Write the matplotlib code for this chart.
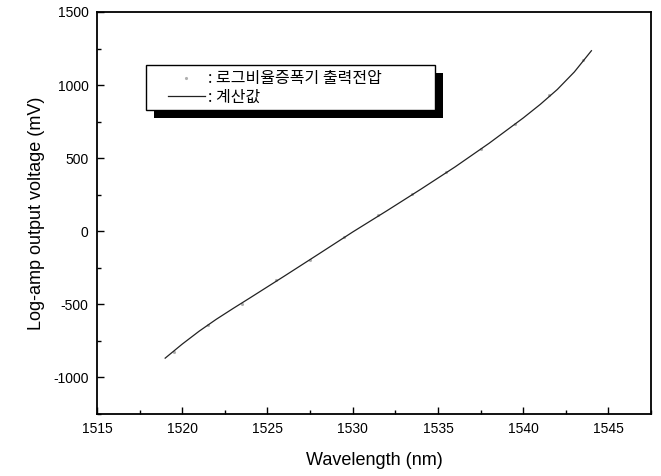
import matplotlib
matplotlib.use("Agg")
import matplotlib.pyplot as plt
from matplotlib.patches import Rectangle
from matplotlib.ticker import MultipleLocator

plt.rcParams['font.family'] = ['Liberation Sans', 'Noto Sans CJK KR', 'DejaVu Sans']
plt.rcParams['axes.unicode_minus'] = False

# calculated curve (nm, mV)
calc_wl = [1519, 1520, 1521, 1522, 1523, 1524, 1526, 1528, 1530, 1532, 1534, 1536, 1538, 1540, 1541, 1542, 1543, 1544]
calc_mv = [-868, -772, -683, -602, -527, -454, -306, -156, -5, 140, 288, 440, 602, 775, 868, 970, 1090, 1235]

# measured log-amp output (nm, mV)
meas_wl = [1519.5, 1521.5, 1523.5, 1525.5, 1527.5, 1529.5, 1531.5, 1533.5, 1535.5, 1537.5, 1539.5, 1541.5, 1543.5]
meas_mv = [-825, -640, -495, -335, -200, -40, 110, 255, 405, 565, 735, 930, 1170]

label_meas = ': 로그비율증폭기 출력전압'
label_calc = ': 계산값'

fig = plt.figure(figsize=(6.61, 4.76), dpi=100)
ax = fig.add_axes([0.1467, 0.1303, 0.8383, 0.8445])

ax.plot(meas_wl, meas_mv, linestyle='none', marker='.', markersize=2.5,
        color='#b0b0b0', label=label_meas)
ax.plot(calc_wl, calc_mv, color='#222222', linewidth=0.9, label=label_calc)

ax.set_xlim(1515, 1547.5)
ax.set_ylim(-1250, 1500)
ax.xaxis.set_major_locator(MultipleLocator(5))
ax.xaxis.set_minor_locator(MultipleLocator(2.5))
ax.yaxis.set_major_locator(MultipleLocator(500))
ax.yaxis.set_minor_locator(MultipleLocator(250))
ax.tick_params(which='major', direction='in', length=5, width=1, labelsize=10, pad=6)
ax.tick_params(which='minor', direction='in', length=3, width=1)
for s in ax.spines.values():
    s.set_linewidth(1.3)

ax.set_xlabel('Wavelength (nm)', fontsize=13, labelpad=11)
ax.set_ylabel('Log-amp output voltage (mV)', fontsize=13, labelpad=6)

# legend contents (frame drawn separately with a hard black shadow)
leg = ax.legend(loc='upper left', bbox_to_anchor=(0.128, 0.855), borderaxespad=0,
                frameon=False, handlelength=2.3, handletextpad=0.2, borderpad=0,
                labelspacing=0.08,
                prop={'family': ['Noto Sans CJK KR', 'DejaVu Sans'], 'size': 11.5})
leg.set_zorder(6)
for h in leg.legend_handles:
    if h.get_marker() == '.':
        h.set_markersize(2.5)

box_x0, box_y0, box_w, box_h = 0.0884, 0.756, 0.522, 0.112
off_x = 8 / 554
off_y = 8 / 402
ax.add_patch(Rectangle((box_x0 + off_x, box_y0 - off_y), box_w, box_h,
                       transform=ax.transAxes, facecolor='black', edgecolor='none', zorder=4))
ax.add_patch(Rectangle((box_x0, box_y0), box_w, box_h, transform=ax.transAxes,
                       facecolor='white', edgecolor='black', linewidth=1.0, zorder=5))

fig.savefig('out.png', dpi=100)
